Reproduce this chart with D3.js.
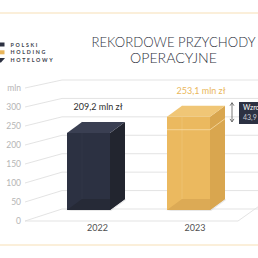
<!DOCTYPE html>
<html>
<head>
<meta charset="utf-8">
<script src="https://cdn.jsdelivr.net/npm/d3@7"></script>
<style>
  html, body { margin: 0; padding: 0; background: #fff; }
  svg { display: block; font-family: Lato, "Open Sans", sans-serif; }
</style>
</head>
<body>
<script>
const years = ['2022', '2023'];
const revenue = [209.2, 253.1];
const valueLabels = ['209,2 mln zł', '253,1 mln zł'];
const yTicks = [0, 50, 100, 150, 200, 250, 300, 350];
const unitLabel = 'mln';
const titleLines = ['REKORDOWE PRZYCHODY', 'OPERACYJNE'];
const logoLines = ['POLSKI', 'HOLDING', 'HOTELOWY'];
const growthLines = ['Wzrost', '43,9 mln zł'];

const W = 258, H = 258;
const depth = { dx: 15, dy: -11 };

const svg = d3.select('body').append('svg')
  .attr('width', W).attr('height', H);

// decorative rules top and bottom
svg.append('line').attr('x1', 0).attr('x2', W).attr('y1', 13).attr('y2', 13)
  .attr('stroke', '#f7dfb6').attr('stroke-width', 1.2);
svg.append('line').attr('x1', 0).attr('x2', W).attr('y1', 245).attr('y2', 245)
  .attr('stroke', '#f7dfb6').attr('stroke-width', 1.2);

// logo
const logo = svg.append('g');
const logoColors = ['#2c3142', '#e9b65c', '#2c3142'];
logoLines.forEach((t, i) => {
  const y = 45 + i * 7.8;
  if (i < 2) {
    logo.append('rect').attr('x', 0).attr('y', y - 2.5).attr('width', 4.5).attr('height', 4)
      .attr('fill', logoColors[i]);
  } else {
    logo.append('path').attr('d', `M0,${y - 2.5}L5,${y - 2.5}L1,${y + 1.8}L0,${y + 1.8}Z`)
      .attr('fill', logoColors[i]);
  }
  logo.append('text').attr('x', 10.5).attr('y', y + 1.6)
    .attr('font-size', 5.3).attr('font-weight', 700).attr('letter-spacing', 1.7)
    .attr('fill', '#3a3e4c').text(t);
});

// title
svg.append('g').selectAll('text').data(titleLines).join('text')
  .attr('x', 173.5).attr('y', (d, i) => 47 + i * 16)
  .attr('text-anchor', 'middle')
  .attr('font-size', 14.5).attr('font-weight', 300)
  .attr('textLength', (d, i) => i === 0 ? 164 : 87)
  .attr('lengthAdjust', 'spacingAndGlyphs')
  .attr('fill', '#2e3240').text(d => d);

// scales
const yFront = d3.scaleLinear().domain([0, 350]).range([221, 88]);
const yBack = d3.scaleLinear().domain([0, 350]).range([209, 80]);
const yBar = d3.scaleLinear().domain([0, 350]).range([210, 81]);
const x = d3.scalePoint().domain(years).range([67, 167]);
const frontX0 = 25, backX0 = 62;

// grid: diagonal side wall + horizontal back wall
const grid = svg.append('g').attr('stroke', '#e0e0e0').attr('stroke-width', 0.9).attr('fill', 'none');
yTicks.forEach(v => {
  grid.append('path')
    .attr('d', `M${frontX0},${yFront(v)}L${backX0},${yBack(v)}L${W},${yBack(v)}`);
});
// floor front and right edges
grid.append('path').attr('d', `M${frontX0},${yFront(0)}L238,${yFront(0)}L262,${yBack(0) - 5}`);

// axis labels
svg.append('g').selectAll('text').data(yTicks).join('text')
  .attr('x', 21).attr('y', d => yFront(d) + 3)
  .attr('text-anchor', 'end').attr('font-size', 8.5)
  .attr('fill', '#b5b5b5')
  .text(d => d === 350 ? unitLabel : d);

// bars
const palettes = [
  { front: '#2c3142', top: '#3a3f52', side: '#22252f', bottom: '#262a37', line: '#3d4254' },
  { front: '#ebb95f', top: '#f0c676', side: '#d9a64f', bottom: '#dcaa55', line: '#f5d79c' }
];
const barW = 43;
const valueShift = [9.5, 12.5];
const catShift = [9, 6.5];
const bars = svg.append('g');
years.forEach((yr, i) => {
  const p = palettes[i];
  const x0 = x(yr), x1 = x0 + barW;
  const yt = yBar(revenue[i]), yb = yBar(0);
  const { dx, dy } = depth;
  const g = bars.append('g');
  // shadow
  g.append('path').attr('d', `M${x0 - 1},${yb + 1}L${x1 + 1},${yb + 1}L${x1 + dx + 1},${yb + dy + 1}L${x1 + dx},${yb + dy}Z`)
    .attr('fill', '#d8d8d8').attr('opacity', 0.6);
  // front
  g.append('rect').attr('x', x0).attr('y', yt).attr('width', barW).attr('height', yb - yt)
    .attr('fill', p.front);
  // bottom face seen through
  g.append('path').attr('d', `M${x0},${yb}L${x1},${yb}L${x1 + dx},${yb + dy}L${x0 + dx},${yb + dy}Z`)
    .attr('fill', p.bottom);
  // inner back edge
  g.append('path').attr('d', `M${x0 + dx},${yb + dy}L${x0 + dx},${yt + dy}`)
    .attr('stroke', p.line).attr('stroke-width', 0.6).attr('opacity', 0.5);
  // side
  g.append('path').attr('d', `M${x1},${yt}L${x1 + dx},${yt + dy}L${x1 + dx},${yb + dy}L${x1},${yb}Z`)
    .attr('fill', p.side);
  // top
  g.append('path').attr('d', `M${x0},${yt}L${x0 + dx},${yt + dy}L${x1 + dx},${yt + dy}L${x1},${yt}Z`)
    .attr('fill', p.top);
  if (i === 1) {
    const yl = yt + 13;
    g.append('path').attr('d', `M${x0},${yl}L${x1},${yl}L${x1 + dx},${yl + dy}`)
      .attr('stroke', '#f7dca6').attr('stroke-width', 0.8).attr('fill', 'none');
  }
  // value label
  svg.append('text')
    .attr('x', x0 + barW / 2 + valueShift[i])
    .attr('y', yt + dy - 11.5)
    .attr('text-anchor', 'middle').attr('font-size', 9)
    .attr('fill', i === 0 ? '#2f2f2f' : '#eab75c')
    .text(valueLabels[i]);
  // category label
  svg.append('text')
    .attr('x', x0 + barW / 2 + catShift[i])
    .attr('y', 230.5)
    .attr('text-anchor', 'middle').attr('font-size', 9)
    .attr('fill', '#505050').text(yr);
});

// growth arrow and callout
const ax = 232;
const ya = yBar(revenue[1]) + depth.dy - 3, yb2 = yBar(revenue[0]) + depth.dy;
const arrow = svg.append('g').attr('stroke', '#555').attr('stroke-width', 0.8).attr('fill', 'none');
arrow.append('line').attr('x1', ax).attr('x2', ax).attr('y1', ya).attr('y2', yb2);
arrow.append('path').attr('d', `M${ax - 2},${ya + 3}L${ax},${ya}L${ax + 2},${ya + 3}`);
arrow.append('path').attr('d', `M${ax - 2},${yb2 - 3}L${ax},${yb2}L${ax + 2},${yb2 - 3}`);

svg.append('rect').attr('x', 239).attr('y', 102).attr('width', 30).attr('height', 22)
  .attr('fill', '#2c3142');
svg.append('g').selectAll('text').data(growthLines).join('text')
  .attr('x', 243).attr('y', (d, i) => 110 + i * 9.5)
  .attr('font-size', 7)
  .attr('fill', (d, i) => i === 0 ? '#ffffff' : '#c9cbd2')
  .text(d => d);
</script>
</body>
</html>
